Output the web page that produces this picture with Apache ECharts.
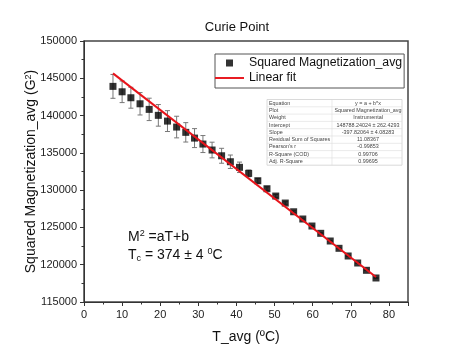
<!DOCTYPE html>
<html><head><meta charset="utf-8">
<script src="https://cdn.jsdelivr.net/npm/echarts@6/dist/echarts.min.js"></script>
<style>html,body{margin:0;padding:0;background:#fff}#c{width:474px;height:362px}</style>
</head><body><div id="c"></div>
<script>
const temps = [7.6, 10.0, 12.3, 14.7, 17.1, 19.5, 21.9, 24.3, 26.7, 29.0, 31.2, 33.6, 36.1, 38.4, 40.8, 43.2, 45.6, 48.0, 50.3, 52.8, 55.0, 57.4, 59.8, 62.1, 64.6, 66.9, 69.3, 71.8, 74.1, 76.6];
const magSq = [143915, 143190, 142390, 141580, 140830, 140030, 139260, 138460, 137750, 136980, 136180, 135380, 134610, 133810, 133060, 132250, 131260, 130190, 129210, 128270, 127100, 126130, 125190, 124210, 123180, 122200, 121170, 120230, 119250, 118220];
const errs = [1600, 1450, 1400, 1500, 1500, 1450, 1400, 1450, 1300, 1270, 1140, 1050, 1000, 900, 700, 450, 320, 260, 220, 170, 130, 110, 90, 80, 70, 60, 50, 50, 40, 40];
const fitT = [7.6, 76.6];
const fitM = [145660, 118350];
const xTicks = {min: 0, max: 85, interval: 10};
const yTicks = {min: 115000, max: 150000, interval: 5000};
const tableRows = [
  ['Equation', 'y = a + b*x'],
  ['Plot', 'Squared Magnetization_avg'],
  ['Weight', 'Instrumental'],
  ['Intercept', '148788.24024 \u00b1 262.4293'],
  ['Slope', '-397.82064 \u00b1 4.08283'],
  ['Residual Sum of Squares', '11.08367'],
  ["Pearson's r", '-0.99853'],
  ['R-Square (COD)', '0.99706'],
  ['Adj. R-Square', '0.99695']
];

const FONT = '"Liberation Sans", Arial, sans-serif';
const chart = echarts.init(document.getElementById('c'));

const scatterData = temps.map((t, i) => [t, magSq[i]]);
const errData = temps.map((t, i) => [t, magSq[i] - errs[i], magSq[i] + errs[i]]);
const fitData = fitT.map((t, i) => [t, fitM[i]]);

// stats table graphic
const tx0 = 267, ty0 = 99.5, tw = 135, rh = 7.3, colSplit = 332;
const tableEls = [];
tableEls.push({type: 'rect', shape: {x: tx0, y: ty0, width: tw, height: rh * tableRows.length}, style: {fill: '#fff', stroke: '#d0d0d0', lineWidth: 0.8}});
tableRows.forEach((r, i) => {
  if (i > 0) tableEls.push({type: 'line', shape: {x1: tx0, y1: ty0 + i * rh, x2: tx0 + tw, y2: ty0 + i * rh}, style: {stroke: '#dcdcdc', lineWidth: 0.6}});
  tableEls.push({type: 'text', x: tx0 + 2, y: ty0 + i * rh + rh / 2, style: {text: r[0], font: '5.4px ' + FONT, fill: '#444', verticalAlign: 'middle', align: 'left'}});
  tableEls.push({type: 'text', x: (colSplit + tx0 + tw) / 2 + 1, y: ty0 + i * rh + rh / 2, style: {text: r[1], font: '5.4px ' + FONT, fill: '#444', verticalAlign: 'middle', align: 'center'}});
});
tableEls.push({type: 'line', shape: {x1: colSplit, y1: ty0, x2: colSplit, y2: ty0 + rh * tableRows.length}, style: {stroke: '#dcdcdc', lineWidth: 0.6}});

chart.setOption({
  animation: false,
  backgroundColor: '#fff',
  title: {text: 'Curie Point', left: 'center', top: 16, textStyle: {fontFamily: FONT, fontSize: 13, fontWeight: 'normal', color: '#111'}},
  grid: {left: 84, right: 66, top: 41, bottom: 60, show: true, borderColor: '#444', borderWidth: 1.5, backgroundColor: 'transparent'},
  legend: {
    left: 215, top: 54, orient: 'vertical', itemGap: 3, itemWidth: 29, itemHeight: 7,
    padding: [3, 2, 4, 0],
    borderColor: '#555', borderWidth: 1,
    textStyle: {fontFamily: FONT, fontSize: 12.3, color: '#111', padding: [0, 0, 0, 0]},
    data: [
      {name: 'Squared Magnetization_avg', icon: 'path://M0,0h10v10h-10z'},
      {name: 'Linear fit', icon: 'path://M0,0h30v2h-30z'}
    ]
  },
  xAxis: {
    type: 'value', min: xTicks.min, max: xTicks.max, interval: xTicks.interval,
    name: 'T_avg (\u00baC)', nameLocation: 'middle', nameGap: 28,
    nameTextStyle: {fontFamily: FONT, fontSize: 14, color: '#111'},
    axisLine: {lineStyle: {color: '#333', width: 1}},
    axisTick: {show: true, length: 4, lineStyle: {color: '#333'}},
    minorTick: {show: true, splitNumber: 2, length: 2.5, lineStyle: {color: '#333'}},
    splitLine: {show: false},
    axisLabel: {fontFamily: FONT, fontSize: 11, color: '#222', margin: 7, showMaxLabel: false,
      formatter: v => (v % 10 === 0 ? String(v) : '')}
  },
  yAxis: {
    type: 'value', min: yTicks.min, max: yTicks.max, interval: yTicks.interval,
    name: 'Squared Magnetization_avg (G{sup|2})', nameLocation: 'middle', nameGap: 45,
    nameMoveOverlap: false,
    nameTextStyle: {fontFamily: FONT, fontSize: 14, color: '#111', rich: {sup: {fontFamily: FONT, fontSize: 9, color: '#111', verticalAlign: 'top', padding: [0, 0, 6, 0]}}},
    axisLine: {show: true, lineStyle: {color: '#333', width: 1}},
    axisTick: {show: true, length: 4, lineStyle: {color: '#333'}},
    minorTick: {show: true, splitNumber: 2, length: 2.5, lineStyle: {color: '#333'}},
    splitLine: {show: false},
    axisLabel: {fontFamily: FONT, fontSize: 11, color: '#222', margin: 7, formatter: v => String(v)}
  },
  graphic: [
    {type: 'group', children: tableEls},
    {type: 'text', left: 128, top: 229, style: {
      text: 'M{s|2} =aT+b', font: '14px ' + FONT, fill: '#111',
      rich: {s: {fontSize: 9, fontFamily: FONT, fill: '#111', padding: [0, 0, 7, 0]}}}},
    {type: 'text', left: 128, top: 247, style: {
      text: 'T{c|c} = 374 \u00b1 4 {s|0}C', font: '14px ' + FONT, fill: '#111',
      rich: {c: {fontSize: 9, fontFamily: FONT, fill: '#111', padding: [7, 0, 0, 0]}, s: {fontSize: 9, fontFamily: FONT, fill: '#111', padding: [0, 0, 7, 0]}}}}
  ],
  series: [
    {
      type: 'custom', name: 'err', silent: true, z: 2,
      data: errData,
      renderItem: (params, api) => {
        const x = api.value(0);
        const lo = api.coord([x, api.value(1)]);
        const hi = api.coord([x, api.value(2)]);
        const cw = 2.5;
        const st = {stroke: '#777', lineWidth: 1};
        return {type: 'group', children: [
          {type: 'line', shape: {x1: lo[0], y1: lo[1], x2: hi[0], y2: hi[1]}, style: st},
          {type: 'line', shape: {x1: lo[0] - cw, y1: lo[1], x2: lo[0] + cw, y2: lo[1]}, style: st},
          {type: 'line', shape: {x1: hi[0] - cw, y1: hi[1], x2: hi[0] + cw, y2: hi[1]}, style: st}
        ]};
      }
    },
    {
      type: 'scatter', name: 'Squared Magnetization_avg', data: scatterData, z: 3,
      symbol: 'rect', symbolSize: 7, itemStyle: {color: '#000'}
    },
    {
      type: 'line', name: 'Linear fit', data: fitData, z: 4, symbol: 'none',
      lineStyle: {color: '#e8141b', width: 2}, itemStyle: {color: '#e8141b'}
    }
  ]
});
</script>
</body></html>
